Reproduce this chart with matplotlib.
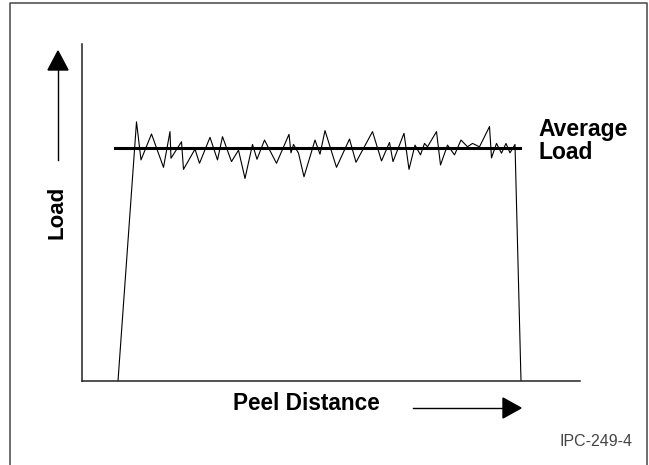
import matplotlib
matplotlib.use('Agg')
import matplotlib.pyplot as plt
from matplotlib.patches import Polygon

plt.rcParams['font.family'] = ['Liberation Sans', 'DejaVu Sans']

# peel test trace (distance and load in arbitrary units)
distance = [7.2, 10.9, 11.8, 13.9, 16.3, 17.6, 17.8, 19.9, 20.3, 22.6, 23.5, 25.6, 27.1, 28.1,
            29.9, 31.3, 32.6, 34.1, 35.0, 36.5, 38.9, 41.4, 41.8, 42.3, 43.3, 44.4, 46.6, 47.6,
            48.6, 50.9, 53.5, 54.8, 58.1, 59.9, 61.5, 62.2, 64.4, 65.4, 66.6, 67.7, 68.5, 69.1,
            70.9, 71.7, 73.1, 74.5, 75.8, 77.1, 78.1, 79.5, 81.5, 81.9, 82.9, 83.9, 84.8, 85.6,
            86.6, 87.8]
load = [0.0, 76.9, 65.6, 73.3, 63.4, 74.0, 66.1, 71.0, 62.8, 68.8, 64.6, 72.3, 65.6, 72.5,
        65.1, 68.5, 60.1, 70.2, 65.8, 71.5, 64.6, 73.2, 67.7, 70.2, 67.6, 60.6, 71.5, 67.3,
        74.3, 63.4, 71.8, 64.9, 74.0, 65.3, 70.8, 65.1, 73.5, 62.8, 70.0, 67.1, 70.5, 69.5,
        74.0, 64.1, 70.0, 67.1, 71.5, 69.5, 70.5, 69.5, 75.5, 66.2, 70.5, 67.6, 70.5, 67.7,
        70.2, 0.0]
avg_load = 69.1
avg_span = [6.6, 87.6]

W, H = 649, 465
fig = plt.figure(figsize=(W / 100, H / 100), dpi=100)

# outer frame (left, top, right)
fig.add_artist(plt.Line2D([10 / W, 10 / W, 647 / W, 647 / W], [0, 1 - 3 / H, 1 - 3 / H, 0],
                          transform=fig.transFigure, color='#555555', lw=1.2))

ax = fig.add_axes([82 / W, (H - 381) / H, 498 / W, 337 / H])
ax.plot(distance, load, color='black', lw=0.8)
ax.plot(avg_span, [avg_load, avg_load], color='black', lw=2.2)
ax.set_xlim(0, 99.6)
ax.set_ylim(0, 100)
ax.set_xticks([])
ax.set_yticks([])
for s in ['top', 'right']:
    ax.spines[s].set_visible(False)
for s in ['left', 'bottom']:
    ax.spines[s].set_linewidth(1.1)
    ax.spines[s].set_color('#222222')

ax.text(1.0 + (538 - 580) / 498, (381 - 118) / 337, 'Average\nLoad', transform=ax.transAxes,
        fontsize=16.5, fontweight='bold', ha='left', va='top', linespacing=0.98)

# axis captions with arrows (figure pixels)
fig.text(57 / W, 1 - 212.5 / H, 'Load', rotation=90, fontsize=16, fontweight='bold',
         ha='center', va='center')
fig.text(306 / W, 1 - 403.5 / H, 'Peel Distance', fontsize=16.3, fontweight='bold',
         ha='center', va='center')
fig.text(596 / W, 1 - 441.5 / H, 'IPC-249-4', fontsize=11.5, color='#444444',
         ha='center', va='center')

fig.add_artist(plt.Line2D([58 / W, 58 / W], [1 - 160 / H, 1 - 68 / H],
                          transform=fig.transFigure, color='black', lw=1.0))
fig.add_artist(Polygon([[48 / W, 1 - 70 / H], [68 / W, 1 - 70 / H], [58 / W, 1 - 51 / H]],
                       closed=True, transform=fig.transFigure, color='black'))
fig.add_artist(plt.Line2D([413 / W, 504 / W], [1 - 408 / H, 1 - 408 / H],
                          transform=fig.transFigure, color='black', lw=1.0))
fig.add_artist(Polygon([[503 / W, 1 - 398 / H], [503 / W, 1 - 418 / H], [521 / W, 1 - 408 / H]],
                       closed=True, transform=fig.transFigure, color='black'))

fig.savefig('out.png', dpi=100)
